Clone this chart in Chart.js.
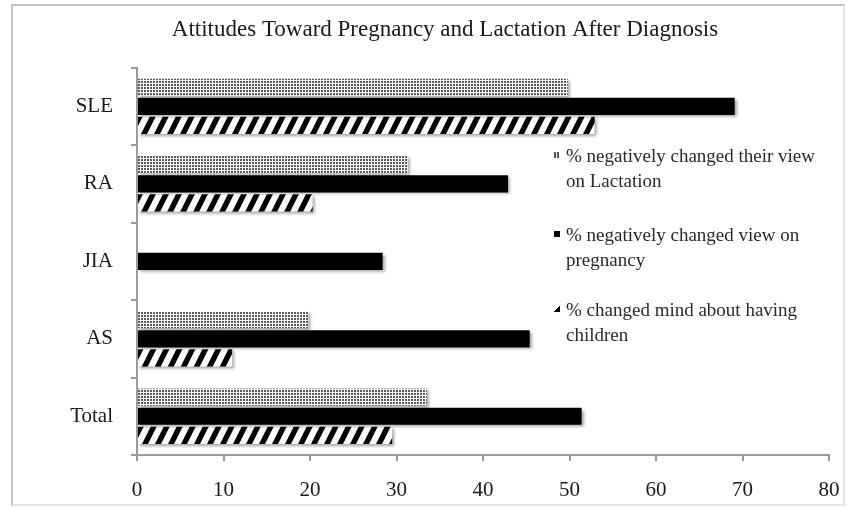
<!DOCTYPE html>
<html>
<head>
<meta charset="utf-8">
<script src="https://cdn.jsdelivr.net/npm/chart.js@4"></script>
<style>
body{margin:0;background:#fff;}
#wrap{position:relative;width:847px;height:508px;}
#frame{position:absolute;left:11px;top:4px;width:830px;height:498px;border:2px solid #c4c4c4;border-right-color:#e6e6e6;border-bottom-color:#e6e6e6;}
canvas{position:absolute;left:0;top:0;}
.leg{position:absolute;left:566px;width:268px;font-family:"Liberation Serif",serif;font-size:19px;line-height:25px;color:#2a2a2a;}
.sw{position:absolute;left:-12px;top:9px;width:6px;height:6px;}
</style>
</head>
<body>
<div id="wrap">
<div id="frame"></div>
<canvas id="chart" width="847" height="508"></canvas>
<div class="leg" style="top:143px"><span class="sw" id="sw0"></span>% negatively changed their view on Lactation</div>
<div class="leg" style="top:222px"><span class="sw" id="sw1"></span>% negatively changed view on pregnancy</div>
<div class="leg" style="top:297px"><span class="sw" id="sw2"></span>% changed mind about having children</div>
</div>
<script>
const categories=["SLE","RA","JIA","AS","Total"];
const lactation=[49.8,31.3,null,19.8,33.5];
const pregnancy=[69.1,42.9,28.4,45.4,51.4];
const children=[52.9,20.3,null,11.0,29.5];
const xTicks=[0,10,20,30,40,50,60,70,80];

function dotPattern(){
    let c=document.createElement("canvas");
    c.width=3;c.height=3;
    let x=c.getContext("2d");
    x.fillStyle="#fff";x.fillRect(0,0,3,3);
    x.fillStyle="#5a5a5a";
    x.fillRect(0,0,2,2);
    return c;
}

function hatchPattern(){
    let c=document.createElement("canvas");
    c.width=13;c.height=26;
    let x=c.getContext("2d");
    x.fillStyle="#fff";x.fillRect(0,0,13,26);
    x.fillStyle="#000";
    for(let k=-2;k<=2;k++){
        let s=k*13;
        x.beginPath();
        x.moveTo(s,26);x.lineTo(s+6,26);x.lineTo(s+19,0);x.lineTo(s+13,0);
        x.closePath();x.fill();
    }
    return c;
}

let ctx=document.getElementById("chart").getContext("2d");
const dots=ctx.createPattern(dotPattern(),"repeat");
const hatch=ctx.createPattern(hatchPattern(),"repeat");

document.getElementById("sw0").style.background="repeating-linear-gradient(90deg,#555 0 2px,#fff 2px 3px)";
document.getElementById("sw1").style.background="#000";
document.getElementById("sw2").style.background="linear-gradient(135deg,#fff 45%,#000 45%)";

// bars in the picture carry a soft drop shadow
const shadow={
    id:"shadow",
    beforeDatasetsDraw(chart){
        let c=chart.ctx;
        c.save();
        c.shadowColor="rgba(0,0,0,0.35)";
        c.shadowBlur=3;
        c.shadowOffsetX=2;
        c.shadowOffsetY=2;
    },
    afterDatasetsDraw(chart){
        chart.ctx.restore();
    }
};

new Chart(ctx,{
    type:"bar",
    data:{
        labels:categories,
        datasets:[
            {label:"% negatively changed their view on Lactation",data:lactation,backgroundColor:dots},
            {label:"% negatively changed view on pregnancy",data:pregnancy,backgroundColor:"#000"},
            {label:"% changed mind about having children",data:children,backgroundColor:hatch}
        ]
    },
    options:{
        indexAxis:"y",
        responsive:false,
        animation:false,
        categoryPercentage:0.74,
        barPercentage:0.9,
        layout:{padding:{left:61,right:18,top:0,bottom:8}},
        plugins:{
            legend:{display:false},
            tooltip:{enabled:false},
            title:{
                display:true,
                text:"Attitudes Toward Pregnancy and Lactation After Diagnosis",
                font:{family:"Liberation Serif",size:23,weight:"normal"},
                color:"#1a1a1a",
                padding:{top:16,bottom:24}
            }
        },
        scales:{
            x:{
                min:0,max:80,
                afterBuildTicks(s){s.ticks=xTicks.map(v=>({value:v}));},
                afterFit(s){
                    s.height=508-8-455;
                    s.paddingLeft=0;
                    s.paddingRight=0;
                },
                border:{color:"#9a9a9a",width:2},
                grid:{drawOnChartArea:false,tickLength:6,color:"#9a9a9a",lineWidth:2},
                ticks:{padding:17,color:"#1a1a1a",font:{family:"Liberation Serif",size:21}}
            },
            y:{
                afterFit(s){s.width=137-61;},
                border:{color:"#9a9a9a",width:2},
                grid:{drawOnChartArea:false,tickLength:6,color:"#9a9a9a",lineWidth:2,offset:true},
                ticks:{padding:18,color:"#1a1a1a",font:{family:"Liberation Serif",size:21}}
            }
        }
    },
    plugins:[shadow]
});
</script>
</body>
</html>
